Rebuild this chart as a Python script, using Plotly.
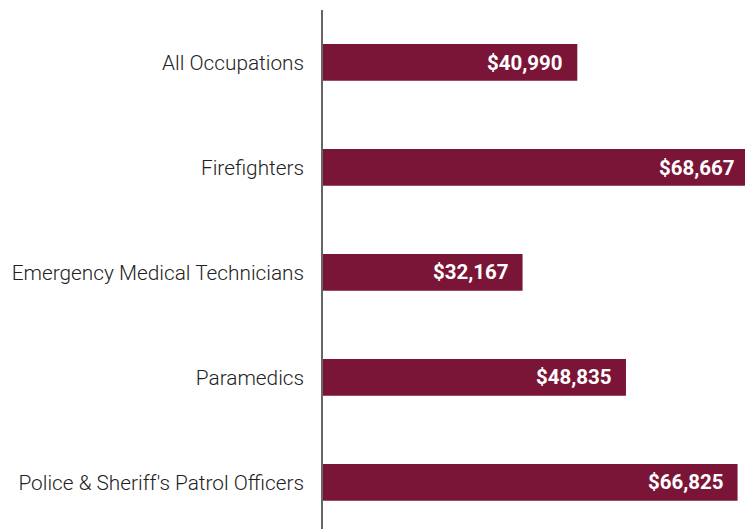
import plotly.graph_objects as go

occupations = ["All Occupations", "Firefighters", "Emergency Medical Technicians",
               "Paramedics", "Police & Sheriff's Patrol Officers"]
salaries = [40990, 68667, 32167, 48835, 66825]
value_labels = ["$40,990", "$68,667", "$32,167", "$48,835", "$66,825"]

fig = go.Figure(go.Bar(
    x=salaries,
    y=occupations,
    orientation="h",
    marker=dict(color="#7a1537", line=dict(width=0)),
    width=0.35,
    hoverinfo="x+y",
))

# value labels inside the bar ends
for occ, val, lab in zip(occupations, salaries, value_labels):
    fig.add_annotation(
        x=val, y=occ, text=lab, showarrow=False,
        xanchor="right", xshift=-12,
        font=dict(family="Roboto", size=20.5, color="white", weight="bold"),
    )

fig.update_layout(
    width=745, height=521,
    margin=dict(l=315, r=4, t=2, b=0),
    plot_bgcolor="white", paper_bgcolor="white",
    showlegend=False,
    xaxis=dict(range=[0, 68667], visible=False, fixedrange=True),
    yaxis=dict(
        categoryorder="array", categoryarray=occupations,
        range=[4.443, -0.5],
        showline=True, linecolor="#666666", linewidth=1.5,
        ticks="", ticklabelstandoff=13,
        tickfont=dict(family="Roboto", size=20.8, color="#222222", weight=300),
        showgrid=False, zeroline=False,
    ),
)

fig.write_html("out.html")
